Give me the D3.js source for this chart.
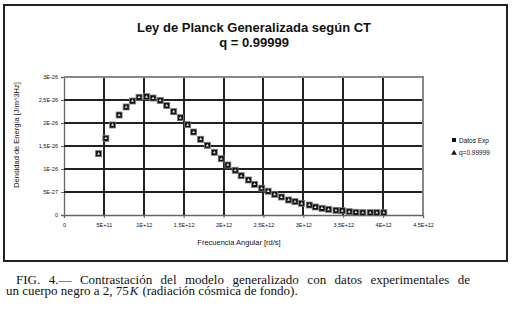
<!DOCTYPE html>
<html>
<head>
<meta charset="utf-8">
<script src="https://cdn.jsdelivr.net/npm/d3@7"></script>
<style>
  body { margin: 0; background: #fff; }
  svg { display: block; }
</style>
</head>
<body>
<div id="chart"></div>
<script>
// datos (frecuencia en rd/s, densidad en J/m^3Hz)
var frecuencia = [4.34e11, 5.25e11, 6.09e11, 6.91e11, 7.79e11, 8.59e11, 9.41e11, 1.034e12, 1.116e12, 1.206e12,
  1.288e12, 1.375e12, 1.459e12, 1.55e12, 1.625e12, 1.713e12, 1.796e12, 1.884e12, 1.971e12, 2.054e12,
  2.146e12, 2.221e12, 2.313e12, 2.388e12, 2.478e12, 2.559e12, 2.641e12, 2.725e12, 2.816e12, 2.896e12,
  2.979e12, 3.075e12, 3.15e12, 3.234e12, 3.316e12, 3.409e12, 3.488e12, 3.575e12, 3.659e12, 3.746e12,
  3.838e12, 3.921e12, 4.009e12];
var datosExp = [1.333e-26, 1.667e-26, 1.957e-26, 2.174e-26, 2.348e-26, 2.478e-26, 2.559e-26, 2.572e-26, 2.543e-26, 2.489e-26,
  2.38e-26, 2.246e-26, 2.115e-26, 1.963e-26, 1.804e-26, 1.646e-26, 1.515e-26, 1.363e-26, 1.224e-26, 1.087e-26,
  9.72e-27, 8.54e-27, 7.61e-27, 6.67e-27, 5.83e-27, 5.17e-27, 4.5e-27, 3.91e-27, 3.26e-27, 2.89e-27,
  2.54e-27, 2.17e-27, 1.74e-27, 1.46e-27, 1.24e-27, 1.02e-27, 9.3e-28, 7.2e-28, 5.9e-28, 5.0e-28,
  5.0e-28, 5.0e-28, 5.0e-28];
var modeloQ = [1.33e-26, 1.67e-26, 1.96e-26, 2.17e-26, 2.35e-26, 2.48e-26, 2.56e-26, 2.57e-26, 2.54e-26, 2.49e-26,
  2.38e-26, 2.25e-26, 2.11e-26, 1.96e-26, 1.80e-26, 1.65e-26, 1.51e-26, 1.36e-26, 1.22e-26, 1.09e-26,
  9.7e-27, 8.5e-27, 7.6e-27, 6.7e-27, 5.8e-27, 5.2e-27, 4.5e-27, 3.9e-27, 3.3e-27, 2.9e-27,
  2.5e-27, 2.2e-27, 1.7e-27, 1.5e-27, 1.2e-27, 1.0e-27, 9.0e-28, 7.0e-28, 6.0e-28, 5.0e-28,
  5.0e-28, 5.0e-28, 5.0e-28];
var xTicks = [0, 5e11, 1e12, 1.5e12, 2e12, 2.5e12, 3e12, 3.5e12, 4e12, 4.5e12];
var xTickLabels = ["0", "5E+11", "1E+12", "1,5E+12", "2E+12", "2,5E+12", "3E+12", "3,5E+12", "4E+12", "4,5E+12"];
var yTicks = [0, 5e-27, 1e-26, 1.5e-26, 2e-26, 2.5e-26, 3e-26];
var yTickLabels = ["0", "5E-27", "1E-26", "1,5E-26", "2E-26", "2,5E-26", "3E-26"];
var series = ["Datos Exp", "q=0.99999"];

var width = 513, height = 311;
var plotLeft = 64, plotRight = 423, plotTop = 77, plotBottom = 215;

var svg = d3.select("#chart").append("svg")
  .attr("width", width)
  .attr("height", height);

// marco exterior
svg.append("rect")
  .attr("x", 4).attr("y", 5)
  .attr("width", 503).attr("height", 256)
  .attr("fill", "none")
  .attr("stroke", "#222")
  .attr("stroke-width", 2);

var x = d3.scaleLinear().domain([0, 4.5e12]).range([plotLeft, plotRight]);
var y = d3.scaleLinear().domain([0, 3e-26]).range([plotBottom, plotTop]);

// ejes
var xAxis = d3.axisBottom(x).tickValues(xTicks)
  .tickFormat(function(d, i) { return xTickLabels[i]; })
  .tickSize(3).tickPadding(5);
var yAxis = d3.axisLeft(y).tickValues(yTicks)
  .tickFormat(function(d, i) { return yTickLabels[i]; })
  .tickSize(3).tickPadding(3);

var gx = svg.append("g").attr("transform", "translate(0," + plotBottom + ")").call(xAxis);
var gy = svg.append("g").attr("transform", "translate(" + plotLeft + ",0)").call(yAxis);
[gx, gy].forEach(function(g) {
  g.select(".domain").attr("stroke", "#666").attr("stroke-width", 1.3);
  g.selectAll(".tick line").attr("stroke", "#666");
  g.selectAll("text").attr("font-family", "Arial, 'Liberation Sans', sans-serif")
    .attr("font-size", "5.5px").attr("fill", "#111");
});

// rejilla
var grid = svg.append("g").attr("class", "rejilla").attr("shape-rendering", "crispEdges");
grid.selectAll("line.vx").data(xTicks.slice(1, -1)).enter().append("line")
  .attr("class", "vx")
  .attr("x1", function(d) { return Math.round(x(d)); }).attr("x2", function(d) { return Math.round(x(d)); })
  .attr("y1", plotTop).attr("y2", plotBottom)
  .attr("stroke", "#222").attr("stroke-width", 1.5);
grid.selectAll("line.hy").data(yTicks.slice(1, -1)).enter().append("line")
  .attr("class", "hy")
  .attr("x1", plotLeft).attr("x2", plotRight)
  .attr("y1", function(d) { return Math.round(y(d)); }).attr("y2", function(d) { return Math.round(y(d)); })
  .attr("stroke", "#222").attr("stroke-width", 1.5);
// borde superior y derecho del area del grafico
grid.append("path")
  .attr("d", "M" + plotLeft + "," + Math.round(y(3e-26)) + "H" + Math.round(x(4.5e12)) + "V" + plotBottom)
  .attr("fill", "none").attr("stroke", "#888").attr("stroke-width", 1.5);

// puntos: cuadrados (datos) y triangulos (modelo)
svg.append("g").selectAll("rect").data(frecuencia).enter().append("rect")
  .attr("x", function(d) { return x(d) - 3; })
  .attr("y", function(d, i) { return y(datosExp[i]) - 3; })
  .attr("width", 6).attr("height", 6)
  .attr("fill", "#111")
  .attr("stroke", "#777")
  .attr("stroke-width", 0.8);
var tri = d3.symbol().type(d3.symbolTriangle).size(4);
svg.append("g").selectAll("path").data(frecuencia).enter().append("path")
  .attr("d", tri)
  .attr("transform", function(d, i) { return "translate(" + x(d) + "," + y(modeloQ[i]) + ")"; })
  .attr("fill", "#ddd");

// titulo
var title = svg.append("g").attr("text-anchor", "middle")
  .attr("font-family", "Arial, 'Liberation Sans', sans-serif")
  .attr("font-weight", "bold").attr("font-size", "13px").attr("fill", "#111");
title.append("text").attr("x", 254).attr("y", 32).text("Ley de Planck Generalizada según CT");
title.append("text").attr("x", 254).attr("y", 47).text("q = 0.99999");

// titulos de ejes
svg.append("text")
  .attr("x", 239).attr("y", 245)
  .attr("text-anchor", "middle")
  .attr("font-family", "Arial, 'Liberation Sans', sans-serif")
  .attr("font-size", "7.5px").attr("fill", "#111")
  .text("Frecuencia Angular [rd/s]");
svg.append("text")
  .attr("transform", "translate(19,135) rotate(-90)")
  .attr("text-anchor", "middle")
  .attr("font-family", "Arial, 'Liberation Sans', sans-serif")
  .attr("font-size", "7.5px").attr("fill", "#111")
  .text("Densidad de Energía [J/m^3Hz]");

// leyenda
var legend = svg.append("g")
  .attr("font-family", "Arial, 'Liberation Sans', sans-serif")
  .attr("font-size", "6.5px").attr("fill", "#111");
legend.append("rect").attr("x", 452).attr("y", 138).attr("width", 4).attr("height", 4).attr("fill", "#111");
legend.append("path").attr("d", d3.symbol().type(d3.symbolTriangle).size(14))
  .attr("transform", "translate(454,153)").attr("fill", "#111");
legend.selectAll("text").data(series).enter().append("text")
  .attr("x", 459)
  .attr("y", function(d, i) { return 142.5 + i * 12.5; })
  .text(function(d) { return d; });

// pie de figura: primera linea en un solo texto, estirada con word-spacing
var caption = svg.append("g")
  .attr("font-family", "'Liberation Serif', 'Times New Roman', serif")
  .attr("font-size", "13px").attr("fill", "#111");
var linea1 = caption.append("text").attr("x", 16).attr("y", 284)
  .text("FIG. 4.— Contrastación del modelo generalizado con datos experimentales de");
var sobra = 454 - linea1.node().getComputedTextLength();
linea1.attr("word-spacing", Math.max(0, sobra / 9) + "px");

var linea2 = caption.append("text").attr("x", 6).attr("y", 295)
  .text("un cuerpo negro a 2, 75");
var cx = 6 + linea2.node().getComputedTextLength() + 1;
var kTxt = caption.append("text").attr("x", cx).attr("y", 295)
  .attr("font-style", "italic").text("K");
cx += kTxt.node().getComputedTextLength() + 4;
caption.append("text").attr("x", cx).attr("y", 295)
  .text("(radiación cósmica de fondo).");
</script>
</body>
</html>
